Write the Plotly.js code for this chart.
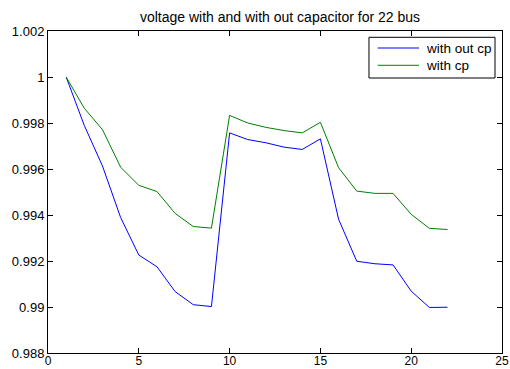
<!DOCTYPE html>
<html>
<head>
<meta charset="utf-8">
<script src="https://cdn.plot.ly/plotly-3.0.1.min.js"></script>
<style>html,body{margin:0;padding:0;background:#fff;}#chart{width:510px;height:369px;}</style>
</head>
<body>
<div id="chart"></div>
<script>
const bus = [1,2,3,4,5,6,7,8,9,10,11,12,13,14,15,16,17,18,19,20,21,22];
const withoutCp = [1.0,0.99789,0.99613,0.99389,0.99226,0.99175,0.99067,0.99010,0.99002,0.99757,0.99728,0.99714,0.99695,0.99685,0.99731,0.99382,0.99199,0.99188,0.99183,0.99069,0.98998,0.98999];
const withCp = [1.0,0.99864,0.99771,0.99608,0.99529,0.99502,0.99407,0.99350,0.99343,0.99833,0.99800,0.99781,0.99767,0.99757,0.99803,0.99606,0.99504,0.99494,0.99494,0.99403,0.99342,0.99337];
const seriesNames = ['with out cp', 'with cp'];
const seriesColors = ['#0000ff', '#008000'];
const xTicks = [0,5,10,15,20,25];
const yTicks = [0.988,0.99,0.992,0.994,0.996,0.998,1,1.002];
const yTickText = ['0.988','0.99','0.992','0.994','0.996','0.998','1','1.002'];

const fam = 'Liberation Sans, Arial, sans-serif';
const font = {family: fam, size: 13, color: '#000'};
const traces = [
  {x: bus, y: withoutCp, mode: 'lines', name: seriesNames[0], line: {color: seriesColors[0], width: 1}},
  {x: bus, y: withCp, mode: 'lines', name: seriesNames[1], line: {color: seriesColors[1], width: 1}}
];
const axisCommon = {
  showgrid: false, zeroline: false, showline: true, linecolor: '#000', linewidth: 1,
  mirror: 'ticks', ticks: 'inside', ticklen: 5, tickcolor: '#000', tickwidth: 1,
  tickfont: font
};

// Manual MATLAB-style legend box (paper coordinates)
const lgX0 = 0.707, lgX1 = 0.9846, lgY0 = 0.854, lgY1 = 0.9804;
const lnX0 = 0.7262, lnX1 = 0.8172, txtX = 0.8282;
const rowY = [0.9472, 0.8935];
const shapes = [
  {type: 'rect', xref: 'paper', yref: 'paper', x0: lgX0, x1: lgX1, y0: lgY0, y1: lgY1, line: {color: '#000', width: 1}, fillcolor: '#fff', layer: 'above'}
];
const annotations = [];
seriesNames.forEach((n, i) => {
  shapes.push({type: 'line', xref: 'paper', yref: 'paper', x0: lnX0, x1: lnX1, y0: rowY[i], y1: rowY[i], line: {color: seriesColors[i], width: 1}, layer: 'above'});
  annotations.push({xref: 'paper', yref: 'paper', x: txtX, y: rowY[i], xanchor: 'left', yanchor: 'middle', text: n, showarrow: false, font: {family: fam, size: 13.5, color: '#000'}});
});

const layout = {
  width: 510, height: 369,
  margin: {l: 48, r: 8, t: 31, b: 16, pad: 0},
  paper_bgcolor: '#fff', plot_bgcolor: '#fff',
  font: font,
  title: {text: 'voltage with and with out capacitor for 22 bus', font: {family: fam, size: 14, color: '#000'}, x: 0.549, xanchor: 'center', y: 0.955, yanchor: 'middle'},
  xaxis: Object.assign({}, axisCommon, {range: [0, 25], tickvals: xTicks, ticktext: xTicks.map(String), tickfont: {family: fam, size: 12, color: '#000'}, ticklabelstandoff: -3}),
  yaxis: Object.assign({}, axisCommon, {range: [0.988, 1.002], tickvals: yTicks, ticktext: yTickText}),
  showlegend: false,
  shapes: shapes,
  annotations: annotations
};
Plotly.newPlot('chart', traces, layout, {displayModeBar: false, staticPlot: true});
</script>
</body>
</html>
